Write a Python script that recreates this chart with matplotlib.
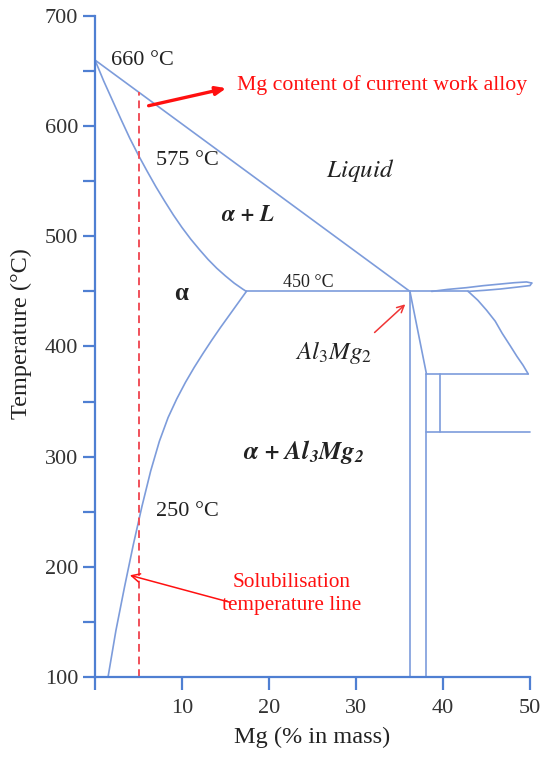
import numpy as np
import matplotlib
matplotlib.use('Agg')
import matplotlib.pyplot as plt

# phase boundaries (Mg %, temperature C)
liquidus_x = [0.0, 36.2]
liquidus_t = [660, 450]
solidus_x = [0.0, 1, 2, 3, 4, 5, 6, 7, 8, 9, 10, 11, 12, 13, 14, 15, 16, 17, 17.4]
solidus_t = [660, 641, 623.5, 606, 589, 573.5, 559, 545, 532, 519.5, 508, 497.5, 488, 479, 471, 464, 457.5, 452, 450]
solvus_x = [17.4, 16.4, 15.4, 14.4, 13.4, 12.4, 11.4, 10.4, 9.4, 8.4, 7.4, 6.4, 5.4, 4.4, 3.4, 2.4, 1.5]
solvus_t = [450, 439, 428, 417, 405.5, 393.5, 381, 367.5, 352.5, 335.5, 314, 287, 255, 220, 182, 142, 100]
eutectic_x = [17.4, 42.9]
eutectic_t = [450, 450]
upper_lens_x = [38.7, 40.5, 42.7, 44.6, 46.6, 48.2, 49.6, 50.2]
upper_lens_t = [450, 451.8, 453.4, 455.2, 456.7, 457.9, 458.6, 457.6]
lower_lens_x = [42.9, 44.8, 46.6, 48.4, 50.0, 50.2]
lower_lens_t = [450, 451.0, 452.2, 453.8, 455.3, 457.6]
beta_x = [42.9, 44.0, 45.0, 46.0, 46.8, 47.7, 48.5, 49.2, 49.8]
beta_t = [450, 442, 433, 423, 412, 401, 391, 383, 375]
compound_x = [36.2, 36.2]
compound_t = [450, 100]
slant_x = [36.2, 38.1]
slant_t = [450, 375]
beta_edge_x = [38.1, 38.1]
beta_edge_t = [375, 100]
h375_x = [38.1, 49.8]
h375_t = [375, 375]
inner_x = [39.6, 39.6]
inner_t = [375, 322]
h322_x = [38.1, 50.0]
h322_t = [322, 322]

alloy_mg = 5.0
alloy_top = 631

xticks = [0, 10, 20, 30, 40, 50]
xticklabels = ['', '10', '20', '30', '40', '50']
yticks = list(range(100, 701, 50))
yticklabels = [str(t) if t % 100 == 0 else '' for t in yticks]

plt.rcParams['font.family'] = ['Liberation Serif', 'DejaVu Serif']
plt.rcParams['mathtext.fontset'] = 'custom'
plt.rcParams['mathtext.rm'] = 'STIXGeneral'
plt.rcParams['mathtext.it'] = 'STIXGeneral:italic'
plt.rcParams['mathtext.bf'] = 'STIXGeneral:italic:bold'

axis_col = '#4f7fd2'
line_col = '#7d9cdb'
txt_col = '#222222'
red = '#ff1010'

fig = plt.figure(figsize=(5.5, 7.57), dpi=100)
ax = fig.add_axes([95/550, 1-677/757, 435/550, 661/757])

lw = 1.2
for xs, ts in [(liquidus_x, liquidus_t), (solidus_x, solidus_t), (solvus_x, solvus_t),
               (eutectic_x, eutectic_t), (upper_lens_x, upper_lens_t), (lower_lens_x, lower_lens_t),
               (beta_x, beta_t), (compound_x, compound_t), (slant_x, slant_t),
               (beta_edge_x, beta_edge_t), (h375_x, h375_t), (inner_x, inner_t), (h322_x, h322_t)]:
    ax.plot(xs, ts, color=line_col, lw=lw, clip_on=False, solid_capstyle='round',
            solid_joinstyle='round')

ax.plot([alloy_mg, alloy_mg], [100, alloy_top], color='#f0505a', lw=1.4, ls=(0, (4, 2.5)))

ax.set_xlim(0, 50)
ax.set_ylim(100, 700)
ax.set_xticks(xticks)
ax.set_xticklabels(xticklabels)
ax.set_yticks(yticks)
ax.set_yticklabels(yticklabels)
for s in ['top', 'right']:
    ax.spines[s].set_visible(False)
for s in ['left', 'bottom']:
    ax.spines[s].set_color(axis_col)
    ax.spines[s].set_linewidth(1.6)
ax.tick_params(direction='out', length=9, width=1.6, color=axis_col,
               labelsize=16, labelcolor='#333333')
ax.tick_params(axis='x', pad=7)
ax.tick_params(axis='y', pad=3)

ax.set_xlabel('Mg (% in mass)', fontsize=17.5, color=txt_col, labelpad=6)
ax.set_ylabel('Temperature (°C)', fontsize=17.5, color=txt_col)
ax.yaxis.set_label_coords(-0.145, 0.519)

# temperature annotations
ax.text(1.8, 660, '660 °C', fontsize=16, color=txt_col, va='center')
ax.text(7.0, 569, '575 °C', fontsize=16, color=txt_col, va='center')
ax.text(21.6, 458, '450 °C', fontsize=13, color=txt_col, va='center')
ax.text(7.0, 250, '250 °C', fontsize=16, color=txt_col, va='center')

# phase labels
ax.text(30.5, 560, r'$Liquid$', fontsize=18, color=txt_col, ha='center', va='center')
ax.text(17.55, 519, r'$\mathbf{\alpha\,+\,L}$', fontsize=16.5, color=txt_col, ha='center', va='center')
ax.text(9.9, 448, 'α', fontsize=18, color=txt_col, ha='center', va='center', fontweight='bold')
ax.text(27.4, 395, r'$Al_3Mg_2$', fontsize=18, color=txt_col, ha='center', va='center')
ax.text(24.0, 304, r'$\mathbf{\alpha\,+\,Al_3Mg_2}$', fontsize=18, color=txt_col, ha='center', va='center')

# red annotations
ax.annotate('', xy=(15.4, 635), xytext=(5.85, 618),
            arrowprops=dict(arrowstyle='-|>,head_length=0.6,head_width=0.25', color=red, lw=2.4))
ax.text(16.3, 637, 'Mg content of current work alloy', fontsize=15.7, color=red, va='center')

ax.annotate('', xy=(35.9, 440), xytext=(31.9, 411),
            arrowprops=dict(arrowstyle='->,head_length=0.5,head_width=0.25', color='#f03535', lw=1.1))

ax.annotate('', xy=(3.7, 193), xytext=(15.9, 167),
            arrowprops=dict(arrowstyle='->,head_length=0.6,head_width=0.3', color=red, lw=1.1))
ax.text(22.6, 175, 'Solubilisation\ntemperature line', fontsize=15.3, color=red,
        ha='center', va='center', linespacing=1.3)

fig.savefig('out.png', dpi=100)
